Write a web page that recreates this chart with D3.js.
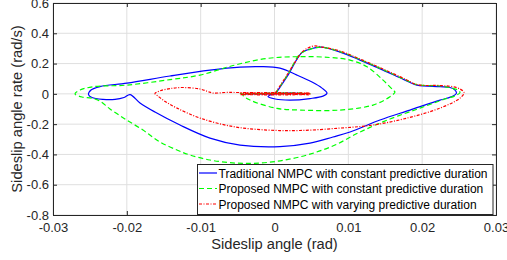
<!DOCTYPE html>
<html>
<head>
<meta charset="utf-8">
<script src="https://cdn.jsdelivr.net/npm/d3@7"></script>
<style>
  body { margin: 0; background: #fff; }
  svg { display: block; font-family: "Liberation Sans", Arial, sans-serif; }
</style>
</head>
<body>
<svg id="chart" width="507" height="260"></svg>
<script>
// tick values
var xTicks = [-0.03, -0.02, -0.01, 0, 0.01, 0.02, 0.03];
var yTicks = [0.6, 0.4, 0.2, 0, -0.2, -0.4, -0.6, -0.8];

// legend labels
var seriesNames = [
    "Traditional NMPC with constant predictive duration",
    "Proposed NMPC with constant predictive duration",
    "Proposed NMPC with varying predictive duration"
];

// traditional NMPC, constant duration (sideslip angle, sideslip rate)
var tradPts = [
    [0.0002, 0.005], [0.00183, 0.124], [0.00368, 0.271], [0.00481, 0.296], [0.0063, 0.309],
    [0.00887, 0.276], [0.01158, 0.223], [0.0147, 0.157], [0.01768, 0.091], [0.0193, 0.058],
    [0.02242, 0.048], [0.02377, 0.042], [0.02445, 0.025], [0.02465, 0.005], [0.02418, -0.015],
    [0.02242, -0.041], [0.01835, -0.107], [0.01429, -0.173], [0.01023, -0.252], [0.00792, -0.285],
    [0.00481, -0.325], [0.00074, -0.348], [-0.00467, -0.338], [-0.00874, -0.292], [-0.0128, -0.206],
    [-0.01619, -0.12], [-0.01822, -0.06], [-0.01957, -0.005], [-0.02038, -0.024], [-0.0216, -0.036],
    [-0.02323, -0.036], [-0.02472, -0.024], [-0.02519, -0.005], [-0.02485, 0.025], [-0.02364, 0.048],
    [-0.01998, 0.071], [-0.01415, 0.118], [-0.00874, 0.157], [-0.00467, 0.177], [-0.00196, 0.18],
    [0.00074, 0.17], [0.00305, 0.124], [0.00508, 0.078], [0.00643, 0.038], [0.00711, 0.005],
    [0.00657, -0.015], [0.00481, -0.031], [0.0021, -0.041], [0.0001, -0.034], [-0.00088, -0.018],
    [0.0002, 0.002], [0.00413, 0.002], [-0.004, 0], [0, 0.003]
];

// proposed NMPC, constant duration
var constPts = [
    [0.0001, 0.002], [0.00183, 0.131], [0.00345, 0.263], [0.00454, 0.289], [0.00616, 0.309],
    [0.00887, 0.279], [0.01158, 0.227], [0.0147, 0.16], [0.01768, 0.094], [0.0193, 0.061],
    [0.02242, 0.052], [0.02404, 0.038], [0.02485, 0.025], [0.02513, 0.009], [0.02458, -0.011],
    [0.02309, -0.034], [0.01971, -0.094], [0.01564, -0.166], [0.01158, -0.252], [0.00819, -0.338],
    [0.00481, -0.398], [0.00142, -0.437], [-0.00196, -0.457], [-0.00535, -0.457], [-0.00874, -0.437],
    [-0.01145, -0.404], [-0.01321, -0.371], [-0.01551, -0.318], [-0.01781, -0.239], [-0.02025, -0.166],
    [-0.02228, -0.1], [-0.02364, -0.048], [-0.02472, -0.028], [-0.02607, -0.021], [-0.02702, -0.001],
    [-0.02634, 0.025], [-0.02458, 0.047], [-0.01998, 0.058], [-0.01415, 0.094], [-0.01009, 0.124],
    [-0.00562, 0.187], [-0.00115, 0.233], [0.00345, 0.246], [0.00752, 0.24], [0.01023, 0.223],
    [0.01253, 0.179], [0.0147, 0.091], [0.01605, 0.025], [0.01632, 0.012], [0.01564, -0.019],
    [0.01334, -0.074], [0.00887, -0.107], [0.00345, -0.107], [0.00034, -0.096], [-0.00332, -0.041],
    [-0.00427, -0.008], [-0.00196, 0.002], [0.00345, 0.005], [0.00481, 0.002], [-0.00467, 0.002],
    [0.0001, 0.002]
];

// proposed NMPC, varying duration
var varyPts = [
    [0.0001, 0.005], [0.00142, 0.104], [0.00278, 0.21], [0.00372, 0.276], [0.00454, 0.303],
    [0.00535, 0.316], [0.00643, 0.309], [0.00887, 0.283], [0.01158, 0.23], [0.0147, 0.164],
    [0.01768, 0.098], [0.0193, 0.061], [0.02242, 0.055], [0.02404, 0.048], [0.02513, 0.032],
    [0.02567, 0.009], [0.02513, -0.028], [0.02242, -0.094], [0.01795, -0.16], [0.01334, -0.206],
    [0.00887, -0.226], [0.00345, -0.242], [-0.00102, -0.239], [-0.00562, -0.216], [-0.01009, -0.16],
    [-0.01321, -0.094], [-0.0147, -0.054], [-0.01578, -0.015], [-0.01619, 0.002], [-0.01551, 0.02],
    [-0.01415, 0.035], [-0.01239, 0.042], [-0.01009, 0.032], [-0.00901, 0.015], [-0.00833, 0.005],
    [-0.0067, 0.009], [-0.00508, 0.009], [0.00481, 0.005], [-0.00467, -0.005], [0.00467, -0.005],
    [-0.00467, 0.005], [0.00481, 0.0], [0.0001, 0.002]
];

var svg = d3.select("#chart");
var plotL = 53, plotT = 3, plotR = 496, plotB = 215;
var axisColor = "#262626";

var x = d3.scaleLinear().domain([-0.03, 0.03]).range([plotL, plotR]);
var y = d3.scaleLinear().domain([-0.8, 0.6]).range([plotB, plotT]);

// grid
var grid = svg.append("g");
grid.selectAll(".gx").data(xTicks).enter().append("line")
    .attr("x1", d => x(d)).attr("x2", d => x(d))
    .attr("y1", plotT).attr("y2", plotB)
    .attr("stroke", "#dfdfdf").attr("stroke-width", 1);
grid.selectAll(".gy").data(yTicks).enter().append("line")
    .attr("x1", plotL).attr("x2", plotR)
    .attr("y1", d => y(d)).attr("y2", d => y(d))
    .attr("stroke", "#dfdfdf").attr("stroke-width", 1);

// curves
svg.append("clipPath").attr("id", "clip").append("rect")
    .attr("x", plotL).attr("y", plotT).attr("width", plotR - plotL).attr("height", plotB - plotT);

var line = d3.line().x(d => x(d[0])).y(d => y(d[1])).curve(d3.curveCatmullRom.alpha(0.5));

var styles = [
    { pts: tradPts, color: "#0000ff", dash: null },
    { pts: constPts, color: "#00ff00", dash: "5,3" },
    { pts: varyPts, color: "#ff0000", dash: "3,1.5,1,1.5" }
];

var curves = svg.append("g").attr("clip-path", "url(#clip)");
styles.forEach(s => {
    curves.append("path")
        .datum(s.pts)
        .attr("d", line)
        .attr("fill", "none")
        .attr("stroke", s.color)
        .attr("stroke-width", 1.2)
        .attr("stroke-dasharray", s.dash);
});

// axes (box with inward ticks)
var fmtX = d => d3.format(".2~f")(d).replace("\u2212", "-");
var fmtY = d => d3.format(".1~f")(d).replace("\u2212", "-");
var xAxisB = d3.axisBottom(x).tickValues(xTicks).tickSize(-4).tickPadding(8).tickFormat(fmtX);
var xAxisT = d3.axisTop(x).tickValues(xTicks).tickSize(-4).tickFormat("");
var yAxisL = d3.axisLeft(y).tickValues(yTicks).tickSize(-4).tickPadding(4).tickFormat(fmtY);
var yAxisR = d3.axisRight(y).tickValues(yTicks).tickSize(-4).tickFormat("");

function styleAxis(g) {
    g.select(".domain").attr("stroke", axisColor);
    g.selectAll(".tick line").attr("stroke", axisColor);
    g.selectAll(".tick text").attr("fill", axisColor).style("font-size", "13px")
        .style("font-family", "'Liberation Sans', Arial, sans-serif");
}

svg.append("g").attr("transform", "translate(0," + plotB + ")").call(xAxisB).call(styleAxis);
svg.append("g").attr("transform", "translate(0," + plotT + ")").call(xAxisT).call(styleAxis);
svg.append("g").attr("transform", "translate(" + plotL + ",0)").call(yAxisL).call(styleAxis);
svg.append("g").attr("transform", "translate(" + plotR + ",0)").call(yAxisR).call(styleAxis);

// axis labels
svg.append("text")
    .attr("x", (plotL + plotR) / 2).attr("y", 249)
    .attr("text-anchor", "middle")
    .attr("fill", axisColor).style("font-size", "14.7px")
    .text("Sideslip angle (rad)");
svg.append("text")
    .attr("transform", "translate(22," + (plotT + plotB) / 2 + ") rotate(-90)")
    .attr("text-anchor", "middle")
    .attr("fill", axisColor).style("font-size", "14.7px")
    .text("Sideslip angle rate (rad/s)");

// legend
var legend = svg.append("g");
legend.append("rect")
    .attr("x", 197.5).attr("y", 164.5).attr("width", 295.5).attr("height", 50)
    .attr("fill", "#fff").attr("stroke", axisColor).attr("stroke-width", 1);

var rowY = [173, 188.5, 204];
seriesNames.forEach((name, i) => {
    legend.append("line")
        .attr("x1", 199).attr("x2", 217)
        .attr("y1", rowY[i]).attr("y2", rowY[i])
        .attr("stroke", styles[i].color)
        .attr("stroke-width", 1.2)
        .attr("stroke-dasharray", styles[i].dash);
    legend.append("text")
        .attr("x", 218.5).attr("y", rowY[i] + 4.5)
        .attr("fill", "#000").style("font-size", "12px")
        .text(name);
});
</script>
</body>
</html>
